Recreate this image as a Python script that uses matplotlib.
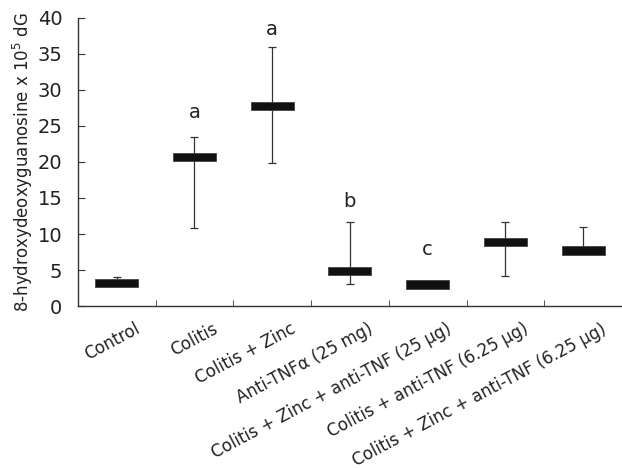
import numpy as np
import matplotlib.pyplot as plt
import matplotlib.transforms as mtransforms

# data
groups = ['Control', 'Colitis', 'Colitis + Zinc', 'Anti-TNFα (25 mg)',
          'Colitis + Zinc + anti-TNF (25 μg)', 'Colitis + anti-TNF (6.25 μg)',
          'Colitis + Zinc + anti-TNF (6.25 μg)']
mean = [3.2, 20.7, 27.8, 4.85, 3.0, 8.9, 7.7]
err_hi = [4.0, 23.4, 36.0, 11.6, 3.0, 11.7, 11.0]
err_lo = [3.2, 10.8, 19.8, 3.0, 3.0, 4.2, 7.7]
letters = ['', 'a', 'a', 'b', 'c', '', '']
letter_y = [0, 26.8, 38.4, 14.5, 7.9, 0, 0]

plt.rcParams['font.family'] = 'DejaVu Sans'

fig = plt.figure(figsize=(6.22, 4.68), dpi=100)
ax = fig.add_axes([0.125, 0.346, 0.875, 0.616])

x = np.arange(len(groups))
# error bars (line + caps)
ax.errorbar(x, mean,
            yerr=[np.array(mean) - np.array(err_lo), np.array(err_hi) - np.array(mean)],
            fmt='none', ecolor='#333333', elinewidth=0.9, capsize=2.6, capthick=0.9, zorder=2)
# thick mean bars
box_h = 1.15
ax.bar(x, box_h, bottom=np.array(mean) - box_h / 2, width=0.55,
       color='#111111', edgecolor='#444444', linewidth=0.6, zorder=3)

for xi, lab, ly in zip(x, letters, letter_y):
    if lab:
        ax.text(xi, ly, lab, ha='center', va='center', fontsize=14, color='#222222')

ax.set_xlim(-0.5, 6.5)
ax.set_ylim(0, 40)
ax.set_yticks(range(0, 41, 5))
ax.tick_params(axis='y', direction='in', length=5, labelsize=14, colors='#333333',
               labelcolor='#222222', pad=11)

ax.set_xticks(x)
ax.set_xticklabels(groups, rotation=28, ha='right', rotation_mode='anchor', fontsize=12,
                   color='#222222')
ax.tick_params(axis='x', which='major', length=0, pad=10)
ax.set_xticks(x[:-1] + 0.5, minor=True)
ax.tick_params(axis='x', which='minor', direction='in', length=4.3, color='#333333')

# shift the rotated labels a bit to the right, as in the original
shift = mtransforms.ScaledTranslation(18 / 100, 0, fig.dpi_scale_trans)
for lbl in ax.get_xticklabels():
    lbl.set_transform(lbl.get_transform() + shift)

for s in ['top', 'right']:
    ax.spines[s].set_visible(False)
for s in ['left', 'bottom']:
    ax.spines[s].set_color('#333333')
    ax.spines[s].set_linewidth(1.0)

ax.set_ylabel('8-hydroxydeoxyguanosine x 10$^5$ dG', fontsize=12, color='#222222', labelpad=2)

fig.savefig('out.png', dpi=100)
